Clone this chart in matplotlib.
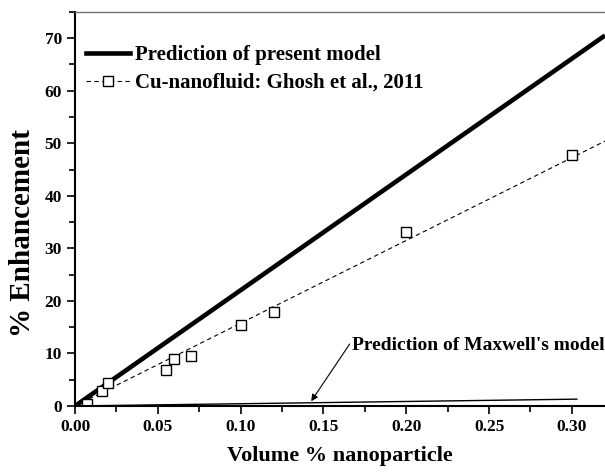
import matplotlib
matplotlib.use("Agg")
import matplotlib.pyplot as plt
from matplotlib.lines import Line2D
from matplotlib.ticker import MultipleLocator, FormatStrFormatter

plt.rcParams['font.family'] = ['Liberation Serif', 'DejaVu Serif']
plt.rcParams['font.weight'] = 'bold'

# present model prediction
model_x = [0.0, 0.32]
model_y = [0.0, 70.5]

# Ghosh et al. 2011 Cu-nanofluid data
exp_x = [0.007, 0.016, 0.020, 0.055, 0.060, 0.070, 0.100, 0.120, 0.200, 0.300]
exp_y = [0.4, 2.9, 4.3, 6.9, 9.0, 9.5, 15.4, 17.8, 33.2, 47.7]

# linear fit through the data
fit_x = [0.0, 0.32]
fit_y = [0.0, 50.4]

# Maxwell model
maxwell_x = [0.0, 0.303]
maxwell_y = [0.0, 1.3]

fig = plt.figure(figsize=(6.05, 4.74), dpi=100)
ax = fig.add_axes([0.124, 0.1435, 0.876, 0.8315])

dash = (0, (4, 3))
ax.plot(model_x, model_y, color='k', lw=3.3, solid_capstyle='butt')
ax.plot(fit_x, fit_y, color='k', lw=0.8, ls=dash)
ax.plot(exp_x, exp_y, ls='none', marker='s', ms=7, mfc='white', mec='k', mew=1.0)
ax.plot(maxwell_x, maxwell_y, color='k', lw=1.0)

ax.annotate("Prediction of Maxwell's model", xy=(0.1426, 0.9), xytext=(0.1675, 11.6),
            fontsize=14, fontweight='bold', va='center', ha='left',
            arrowprops=dict(arrowstyle='-|>', color='k', lw=0.8, relpos=(0, 0.8),
                            mutation_scale=10, shrinkA=0, shrinkB=0))

handles = [Line2D([], [], color='k', lw=3.3),
           Line2D([], [], color='k', lw=0.8, ls=dash, marker='s', ms=7,
                  mfc='white', mec='k', mew=1.0)]
labels = ['Prediction of present model', 'Cu-nanofluid: Ghosh et al., 2011']
ax.legend(handles, labels, loc='upper left', bbox_to_anchor=(0.021, 0.915), frameon=False,
          fontsize=15, handlelength=2.1, handletextpad=0.25, labelspacing=0.36,
          borderaxespad=0, borderpad=0)

ax.set_xlim(0, 0.32)
ax.set_ylim(0, 75)
ax.xaxis.set_major_locator(MultipleLocator(0.05))
ax.xaxis.set_minor_locator(MultipleLocator(0.025))
ax.yaxis.set_major_locator(MultipleLocator(10))
ax.yaxis.set_minor_locator(MultipleLocator(5))
ax.xaxis.set_major_formatter(FormatStrFormatter('%.2f'))

ax.tick_params(which='both', direction='out', labelsize=12.5, width=1.2)
ax.tick_params(which='major', length=6)
ax.tick_params(which='minor', length=4)
ax.tick_params(top=False, right=False)

ax.spines['right'].set_visible(False)
ax.spines['top'].set_color('0.45')
ax.spines['top'].set_linewidth(1.0)
ax.spines['left'].set_linewidth(1.5)
ax.spines['bottom'].set_linewidth(1.5)

ax.set_xlabel('Volume % nanoparticle', fontsize=16, fontweight='bold', labelpad=8)
ax.set_ylabel('% Enhancement', fontsize=21, fontweight='bold')
ax.yaxis.set_label_coords(-0.074, 0.44)

fig.savefig('out.png', dpi=100)
